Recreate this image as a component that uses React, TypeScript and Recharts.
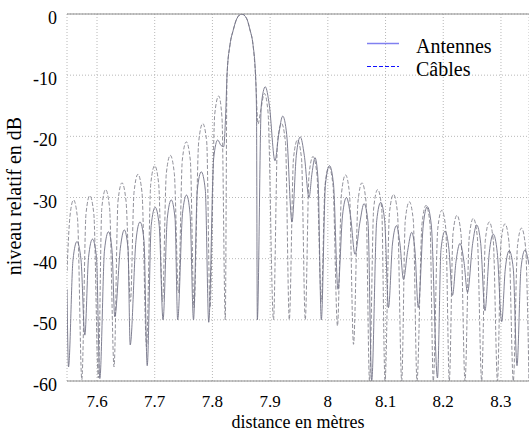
import React from "react";
import { LineChart, Line, XAxis, YAxis, CartesianGrid, ReferenceLine } from "recharts";

const xTicks = [7.6, 7.7, 7.8, 7.9, 8.0, 8.1, 8.2, 8.3];
const yTicks = [0, -10, -20, -30, -40, -50, -60];

const antennesX = [
  7.548, 7.5506, 7.5584, 7.5653, 7.5723, 7.5789, 7.5853, 7.5922, 7.5991, 7.6049,
  7.613, 7.6199, 7.626, 7.6308, 7.6404, 7.6473, 7.6537, 7.6575, 7.6676, 7.6745,
  7.6814, 7.687, 7.6939, 7.7008, 7.7078, 7.7144, 7.7218, 7.7287, 7.7352, 7.7398,
  7.7482, 7.7551, 7.7612, 7.7672, 7.7738, 7.7807, 7.7877, 7.7936, 7.8022, 7.8092,
  7.8149, 7.8195, 7.8235, 7.8253, 7.8305, 7.8362, 7.8426, 7.8507, 7.8591, 7.8651,
  7.8703, 7.8747, 7.8764, 7.8778, 7.8847, 7.8916, 7.8986, 7.9084, 7.9149, 7.9218,
  7.9287, 7.9379, 7.9454, 7.9523, 7.9592, 7.9674, 7.9726, 7.9778, 7.983, 7.9887,
  7.9959, 8.0029, 8.0098, 8.0176, 8.0254, 8.0323, 8.0393, 8.0471, 8.0557, 8.0627,
  8.0696, 8.076, 8.0847, 8.0916, 8.0985, 8.1051, 8.112, 8.119, 8.125, 8.1311,
  8.1384, 8.1453, 8.151, 8.1567, 8.1654, 8.1723, 8.1793, 8.19, 8.1961, 8.203,
  8.2099, 8.216, 8.2221, 8.229, 8.2359, 8.242, 8.251, 8.2579, 8.2649, 8.2723,
  8.2798, 8.2867, 8.2936, 8.3013, 8.3075, 8.3144, 8.3214, 8.3278, 8.3347, 8.3416,
  8.3486,
];
const antennesDb = [
  -45, -57.7, -40.2, -37.2, -40.2, -52.5, -39.8, -36.8, -39.8, -59.6,
  -38.6, -35.6, -38.6, -49.5, -38.3, -35.3, -38.3, -54.1, -37, -34,
  -37, -57.5, -34.6, -31.6, -34.6, -50, -33.4, -30.4, -33.4, -50,
  -32.6, -29.6, -32.6, -50, -28.8, -25.8, -28.8, -50.4, -23.6, -20.6,
  -21.5, -21.7, -15, -10, -5, -2.6, -0.7, 0, -0.7, -2.6,
  -5, -10, -16, -50, -14.9, -11.9, -14.9, -24, -19.7, -16.7,
  -19.7, -34, -23.1, -20.1, -23.1, -30, -26, -23.5, -27, -50,
  -27.8, -24.8, -27.8, -45, -33, -30, -33, -39.3, -34, -31,
  -34, -60, -33.8, -30.8, -33.8, -48, -37.6, -34.6, -37.6, -43.4,
  -38.7, -35.7, -38.7, -48, -34.5, -31.5, -34.5, -59.5, -38.5, -35.5,
  -38.5, -46, -40.5, -37.5, -40.5, -45.5, -37.5, -34.5, -37.5, -48.5,
  -39, -36, -39, -50.3, -41.7, -38.7, -41.7, -57.5, -41.6, -38.6,
  -41,
];

const cablesX = [
  7.548, 7.5532, 7.5593, 7.5662, 7.5737, 7.5809, 7.5875, 7.5945, 7.6023, 7.6083,
  7.6149, 7.6218, 7.6295, 7.6364, 7.6433, 7.6503, 7.658, 7.6641, 7.671, 7.678,
  7.6858, 7.6931, 7.7, 7.7069, 7.7135, 7.7201, 7.727, 7.734, 7.7412, 7.7478,
  7.7547, 7.7617, 7.7681, 7.7762, 7.7832, 7.7901, 7.7958, 7.804, 7.8109, 7.8166,
  7.8223, 7.8253, 7.8305, 7.8362, 7.8426, 7.8507, 7.8591, 7.8651, 7.8703, 7.8747,
  7.879, 7.8833, 7.8902, 7.8963, 7.9058, 7.9128, 7.9197, 7.9266, 7.9332, 7.9405,
  7.9474, 7.9544, 7.9609, 7.9674, 7.9743, 7.9812, 7.9887, 7.9951, 8.002, 8.0089,
  8.0167, 8.0237, 8.0306, 8.0375, 8.0445, 8.0523, 8.0592, 8.0661, 8.0722, 8.0795,
  8.0864, 8.0933, 8.0991, 8.1068, 8.1138, 8.1207, 8.128, 8.1342, 8.1412, 8.1481,
  8.1545, 8.1632, 8.1701, 8.177, 8.1827, 8.1905, 8.1975, 8.2044, 8.2105, 8.2169,
  8.2238, 8.2307, 8.2377, 8.2451, 8.2521, 8.259, 8.2666, 8.2729, 8.2798, 8.2867,
  8.294, 8.3001, 8.307, 8.3139, 8.3214, 8.3286, 8.3356, 8.3425, 8.3486,
];
const cablesDb = [
  -42, -33, -30.4, -33.4, -59.8, -32.7, -29.7, -32.7, -59.5, -31.7,
  -28.7, -31.7, -57.7, -30.6, -27.6, -30.6, -47, -29.2, -26.2, -29.2,
  -54.4, -27.8, -24.8, -27.8, -47, -26.1, -23.1, -26.1, -45.6, -23.9,
  -20.9, -23.9, -48, -20.9, -17.9, -20.9, -48, -16.4, -13.4, -17,
  -50, -10, -5, -2.6, -0.7, 0, -0.7, -2.6, -5, -10,
  -18, -16, -13, -16, -50, -21, -17.9, -21, -50, -23.6,
  -20.6, -23.6, -50, -26.3, -23.3, -26.3, -47, -28, -25, -28,
  -51, -29.3, -26.3, -29.3, -54, -30.6, -27.6, -30.6, -60, -31.7,
  -28.7, -31.7, -60, -32.5, -29.5, -32.5, -60, -33.7, -30.7, -33.7,
  -60, -34.3, -31.3, -34.3, -60, -35.1, -32.1, -35.1, -60, -35.9,
  -32.9, -35.9, -60, -36.4, -33.4, -36.4, -60, -37, -34, -37,
  -60, -37.3, -34.3, -37.3, -60, -38, -35, -38, -60,
];

const antennesData = antennesX.map((x, i) => ({ x, db: antennesDb[i] }));
const cablesData = cablesX.map((x, i) => ({ x, db: cablesDb[i] }));

const FONT = "Liberation Serif, Times New Roman, Times, serif";

const XTick = (props: any) => {
  const { x, y, payload } = props;
  return (
    <text x={x} y={y + 26} textAnchor="middle" fontFamily={FONT} fontSize={17} fill="#000">
      {String(payload.value)}
    </text>
  );
};

const YTick = (props: any) => {
  const { x, y, payload } = props;
  return (
    <text x={x} y={y + 10} textAnchor="end" fontFamily={FONT} fontSize={18} fill="#000">
      {String(payload.value)}
    </text>
  );
};

export default function App() {
  return (
    <div style={{ position: "absolute", left: 0, top: 0, width: 529, height: 435, background: "#fff" }}>
      <LineChart width={529} height={435} margin={{ top: 14, right: 0, bottom: 0, left: 0 }}>
        <CartesianGrid stroke="#b8b8b8" strokeDasharray="1 2" />
        <XAxis
          type="number"
          dataKey="x"
          domain={[7.548, 8.3486]}
          ticks={xTicks}
          allowDataOverflow
          tickLine={false}
          tickSize={0}
          tickMargin={0}
          height={54}
          axisLine={{ stroke: "#8c8c8c" }}
          tick={<XTick />}
          interval={0}
        />
        <YAxis
          type="number"
          domain={[-60, 0]}
          ticks={yTicks}
          allowDataOverflow
          width={67}
          tickLine={false}
          tickSize={0}
          tickMargin={10}
          axisLine={false}
          tick={<YTick />}
          interval={0}
        />
        <ReferenceLine y={0} stroke="#8c8c8c" />
        <Line
          data={cablesData}
          dataKey="db"
          type="monotoneX"
          stroke="#85858e"
          strokeWidth={0.9}
          strokeDasharray="4 2"
          dot={false}
          isAnimationActive={false}
        />
        <Line
          data={antennesData}
          dataKey="db"
          type="monotoneX"
          stroke="#727286"
          strokeWidth={0.9}
          dot={false}
          isAnimationActive={false}
        />
      </LineChart>
      <svg
        width={529}
        height={435}
        style={{ position: "absolute", left: 0, top: 0, pointerEvents: "none" }}
      >
        <line x1={367} y1={43.5} x2={399} y2={43.5} stroke="#8080f0" strokeWidth={1.5} />
        <line x1={367} y1={66.5} x2={399} y2={66.5} stroke="#1010ff" strokeWidth={1} strokeDasharray="4 2" />
        <text x={416} y={53} fontFamily={FONT} fontSize={20} fill="#000">Antennes</text>
        <text x={416} y={76} fontFamily={FONT} fontSize={20} fill="#000">Câbles</text>
        <text x={298} y={428} textAnchor="middle" fontFamily={FONT} fontSize={18} fill="#000">
          distance en mètres
        </text>
        <text
          x={-196}
          y={21}
          transform="rotate(-90)"
          textAnchor="middle"
          fontFamily={FONT}
          fontSize={20}
          fill="#000"
        >
          niveau relatif en dB
        </text>
      </svg>
    </div>
  );
}
